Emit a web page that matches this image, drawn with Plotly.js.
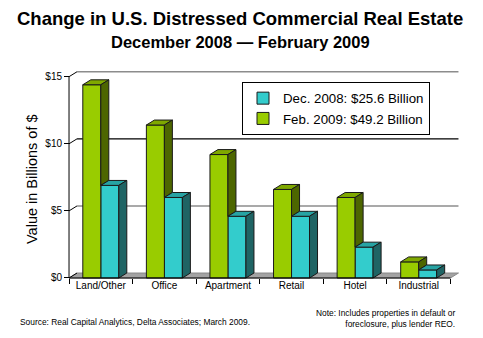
<!DOCTYPE html>
<html>
<head>
<meta charset="utf-8">
<script src="https://cdn.plot.ly/plotly-3.0.1.min.js"></script>
<style>
  html, body { margin: 0; padding: 0; background: #fff; }
  #chart { width: 483px; height: 338px; }
</style>
</head>
<body>
<div id="chart"></div>
<script>
// ---- data ----
var categories = ['Land/Other', 'Office', 'Apartment', 'Retail', 'Hotel', 'Industrial'];
var dec2008 = [6.9, 6.0, 4.6, 4.6, 2.3, 0.6];
var feb2009 = [14.4, 11.4, 9.2, 6.6, 6.0, 1.2];
var decName = 'Dec. 2008: $25.6 Billion';
var febName = 'Feb. 2009: $49.2 Billion';
var yTickVals = [0, 5, 10, 15];
var yTickText = ['$0', '$5', '$10', '$15'];

// ---- geometry / style ----
var W = 483, H = 338;
var M = {l: 68, r: 23, t: 70, b: 59};
var PW = W - M.l - M.r, PH = H - M.t - M.b;
var xMin = -0.516, xMax = 5.65;
var yMin = -0.075, yMax = 15.5;
var DX = 0.126, DY = 0.37;   // 3D depth offset in data units
var BW = 0.283;              // bar width
var OFF = 0.1415;            // half group offset
var FONT = 'Liberation Sans, Arial, sans-serif';

var green = '#99cc00', greenSide = '#4d6600', greenTop = '#7fa800';
var cyan = '#33cccc', cyanSide = '#1f6464', cyanTop = '#27a3a3';
var edge = '#1a1a1a';

function X(px) { return (px - M.l) / PW; }
function Y(py) { return (H - M.b - py) / PH; }

var idx = categories.map(function (c, i) { return i; });
var traces = [];

// front faces (bars)
traces.push({
  type: 'bar', name: decName, x: idx.map(function (i) { return i + OFF; }), y: dec2008,
  width: BW, marker: {color: cyan, line: {color: edge, width: 1}}, hoverinfo: 'skip'
});
traces.push({
  type: 'bar', name: febName, x: idx.map(function (i) { return i - OFF; }), y: feb2009,
  width: BW, marker: {color: green, line: {color: edge, width: 1}}, hoverinfo: 'skip'
});

function poly(xs, ys, color) {
  traces.push({
    type: 'scatter', mode: 'lines', x: xs.concat([xs[0]]), y: ys.concat([ys[0]]),
    fill: 'toself', fillcolor: color, line: {color: edge, width: 1},
    showlegend: false, hoverinfo: 'skip'
  });
}

idx.forEach(function (i) {
  var g = feb2009[i], c = dec2008[i];
  var gx0 = i - OFF - BW / 2, gx1 = i - OFF + BW / 2;
  var cx0 = i + OFF - BW / 2, cx1 = i + OFF + BW / 2;
  // green top face
  poly([gx0, gx0 + DX, gx1 + DX, gx1], [g, g + DY, g + DY, g], greenTop);
  // green visible side face (above the cyan bar)
  poly([gx1, gx1 + DX, gx1 + DX, gx1], [Math.min(c, g), Math.min(c, g) + DY, g + DY, g], greenSide);
  // cyan top face
  poly([cx0, cx0 + DX, cx1 + DX, cx1], [c, c + DY, c + DY, c], cyanTop);
  // cyan side face
  poly([cx1, cx1 + DX, cx1 + DX, cx1], [0, DY, c + DY, c], cyanSide);
});

// dummy trace for the label axis
traces.push({type: 'scatter', x: [], y: [], xaxis: 'x2', showlegend: false, hoverinfo: 'skip'});

// ---- shapes: floor, back-wall gridlines, axis lines ----
var shapes = [];
var x0 = -0.5, x1 = 5.5;
shapes.push({
  type: 'path', xref: 'x', yref: 'y', layer: 'below',
  path: 'M' + x0 + ',0 L' + (x0 + DX) + ',' + DY + ' L' + (x1 + DX) + ',' + DY + ' L' + x1 + ',0 Z',
  fillcolor: '#a3a3a3', line: {color: '#8a8a8a', width: 1}
});
yTickVals.forEach(function (v) {
  if (v > 0) {
    shapes.push({
      type: 'line', xref: 'x', yref: 'y', layer: 'below',
      x0: x0 + DX, x1: x1 + DX, y0: v + DY, y1: v + DY,
      line: {color: v === 10 ? '#000000' : '#8c8c8c', width: v === 10 ? 1.3 : 1.6}
    });
  }
  shapes.push({
    type: 'line', xref: 'x', yref: 'y', layer: 'below',
    x0: x0, x1: x0 + DX, y0: v, y1: v + DY,
    line: {color: '#000', width: 1}
  });
});
shapes.push({type: 'line', xref: 'x', yref: 'y', layer: 'above', x0: x0, x1: x0, y0: 0, y1: 15, line: {color: '#000', width: 1}});
shapes.push({type: 'line', xref: 'x', yref: 'y', layer: 'above', x0: x0, x1: x1, y0: 0, y1: 0, line: {color: '#000', width: 1}});

var boundaries = [];
for (var b = 0; b <= categories.length; b++) boundaries.push(b - 0.5);

var yAxisPos = (x0 - xMin) / (xMax - xMin);
var xAxisPos = (0 - yMin) / (yMax - yMin);

var layout = {
  width: W, height: H,
  margin: M,
  paper_bgcolor: '#ffffff', plot_bgcolor: '#ffffff',
  barmode: 'overlay',
  showlegend: true,
  font: {family: FONT, color: '#000'},
  xaxis: {
    range: [xMin, xMax], tickvals: boundaries, ticks: 'outside', ticklen: 5, tickcolor: '#000',
    showticklabels: false, showgrid: false, zeroline: false, showline: false,
    anchor: 'free', position: xAxisPos, fixedrange: true
  },
  xaxis2: {
    range: [xMin, xMax], overlaying: 'x', tickvals: idx, ticktext: categories, ticks: '',
    tickfont: {family: FONT, size: 10, color: '#000'},
    showgrid: false, zeroline: false, showline: false,
    anchor: 'free', position: xAxisPos, side: 'bottom', fixedrange: true
  },
  yaxis: {
    range: [yMin, yMax], tickvals: yTickVals, ticktext: yTickText,
    ticks: 'outside', ticklen: 5, tickcolor: '#000',
    tickfont: {family: FONT, size: 10, color: '#000'},
    showgrid: false, zeroline: false, showline: false,
    anchor: 'free', position: yAxisPos, fixedrange: true
  },
  legend: {
    x: X(242), y: Y(82), xanchor: 'left', yanchor: 'top',
    bgcolor: '#ffffff', bordercolor: '#000000', borderwidth: 1,
    font: {family: FONT, size: 13.3, color: '#000'},
    traceorder: 'normal'
  },
  shapes: shapes,
  annotations: [
    {text: '<b>Change in U.S. Distressed Commercial Real Estate</b>', xref: 'paper', yref: 'paper',
     x: X(240), y: Y(18), xanchor: 'center', yanchor: 'middle', showarrow: false,
     font: {family: FONT, size: 18.5, color: '#000'}},
    {text: '<b>December 2008 \u2014 February 2009</b>', xref: 'paper', yref: 'paper',
     x: X(240), y: Y(42), xanchor: 'center', yanchor: 'middle', showarrow: false,
     font: {family: FONT, size: 16.5, color: '#000'}},
    {text: 'Value in Billions of $', xref: 'paper', yref: 'paper',
     x: X(32), y: Y(179), xanchor: 'center', yanchor: 'middle', textangle: -90, showarrow: false,
     font: {family: FONT, size: 14.5, color: '#000'}},
    {text: 'Source: Real Capital Analytics, Delta Associates; March 2009.', xref: 'paper', yref: 'paper',
     x: X(18), y: Y(322), xanchor: 'left', yanchor: 'middle', showarrow: false,
     font: {family: FONT, size: 8.4, color: '#000'}},
    {text: 'Note: Includes properties in default or<br>foreclosure, plus lender REO.', xref: 'paper', yref: 'paper',
     x: X(457), y: Y(318), xanchor: 'right', yanchor: 'middle', align: 'right', showarrow: false,
     font: {family: FONT, size: 8.4, color: '#000'}}
  ]
};

Plotly.newPlot('chart', traces, layout, {staticPlot: true, displayModeBar: false});
</script>
</body>
</html>
